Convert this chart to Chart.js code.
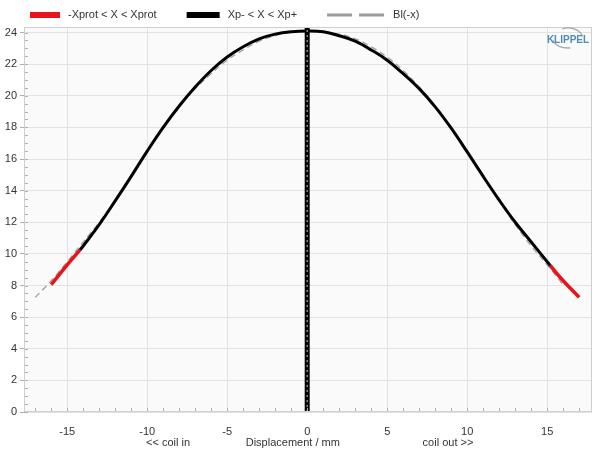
<!DOCTYPE html>
<html>
<head>
<meta charset="utf-8">
<script src="https://cdn.jsdelivr.net/npm/chart.js@4/dist/chart.umd.min.js"></script>
<style>
  html, body { margin: 0; padding: 0; background: #fff; }
  #wrap { width: 600px; height: 450px; position: relative; }
</style>
</head>
<body>
<div id="wrap"><canvas id="c"></canvas></div>
<script>
// Bl(x) curve (mm -> N/A)
const redLeftX = [-16, -15, -14.2];
const redLeftY = [8.05, 9.3, 10.25];
const blackX = [-14.2, -14, -13, -12, -11, -10, -9, -8, -7, -6, -5, -4, -3, -2, -1, 0, 1, 2, 3, 4, 5, 6, 7, 8, 9, 10, 11, 12, 13, 14, 15, 15.2];
const blackY = [10.25, 10.5, 11.85, 13.35, 14.9, 16.5, 18.0, 19.35, 20.55, 21.6, 22.45, 23.1, 23.6, 23.9, 24.05, 24.1, 24.05, 23.8, 23.45, 22.9, 22.25, 21.4, 20.45, 19.3, 17.95, 16.45, 14.9, 13.4, 12.0, 10.75, 9.5, 9.25];
const redRightX = [15.2, 16, 17];
const redRightY = [9.25, 8.3, 7.25];
// Bl(-x), dashed grey
const mirrorX = [-17, -16, -15, -14, -13, -12, -11, -10, -9, -8, -7, -6, -5, -4, -3, -2, -1, 0, 1, 2, 3, 4, 5, 6, 7, 8, 9, 10, 11, 12, 13, 14, 15, 16];
const mirrorY = [7.25, 8.3, 9.5, 10.75, 12.0, 13.4, 14.9, 16.45, 17.95, 19.3, 20.45, 21.4, 22.25, 22.9, 23.45, 23.8, 24.05, 24.1, 24.05, 23.9, 23.6, 23.1, 22.45, 21.6, 20.55, 19.35, 18.0, 16.5, 14.9, 13.35, 11.85, 10.5, 9.3, 8.05];
// rest position marker
const restX = [0, 0];
const restY = [0, 24.35];

const legendNames = ["-Xprot < X < Xprot", "Xp- < X < Xp+", "Bl(-x)"];
const sideLabels = ["<< coil in", "Displacement / mm", "coil out >>"];
const sideLabelPos = [-8.7, -0.9, 8.8];

const FONT = "'Liberation Sans', Arial, sans-serif";

function pts(xs, ys) {
  return xs.map((x, i) => ({ x: x, y: ys[i] }));
}

const redData = pts(redLeftX, redLeftY).concat([{ x: 0, y: null }], pts(redRightX, redRightY));

const bgPlugin = {
  id: "bg",
  beforeDraw(chart) {
    const a = chart.chartArea, ctx = chart.ctx;
    ctx.save();
    ctx.fillStyle = "#fafafa";
    ctx.fillRect(a.left, a.top, a.right - a.left, a.bottom - a.top);
    ctx.restore();
  }
};

const extrasPlugin = {
  id: "extras",
  afterDatasetsDraw(chart) {
    const a = chart.chartArea, ctx = chart.ctx;
    const xs = chart.scales.x, ys = chart.scales.y;
    ctx.save();
    // minor ticks inside plot
    ctx.strokeStyle = "#b0b0b0";
    ctx.lineWidth = 1;
    ctx.beginPath();
    for (let v = -17; v <= 17; v++) {
      const px = Math.round(xs.getPixelForValue(v)) + 0.5;
      ctx.moveTo(px, a.bottom);
      ctx.lineTo(px, a.bottom - 4);
    }
    for (let v = 0; v <= 24; v += 0.5) {
      const py = Math.round(ys.getPixelForValue(v)) + 0.5;
      ctx.moveTo(a.left, py);
      ctx.lineTo(a.left + 4, py);
    }
    ctx.stroke();
    // plot border
    ctx.strokeStyle = "#cfcfcf";
    ctx.strokeRect(a.left + 0.5, a.top + 0.5, a.right - a.left - 1, a.bottom - a.top - 1);
    ctx.restore();
  },
  afterDraw(chart) {
    const ctx = chart.ctx;
    const xs = chart.scales.x;
    ctx.save();
    // axis captions under the tick labels
    ctx.font = "11px " + FONT;
    ctx.fillStyle = "#333";
    ctx.textAlign = "center";
    ctx.textBaseline = "middle";
    sideLabels.forEach((t, i) => {
      ctx.fillText(t, xs.getPixelForValue(sideLabelPos[i]), 443);
    });
    // legend
    const ds = chart.data.datasets;
    const items = [
      { name: legendNames[0], color: ds[2].borderColor, w: 30, dash: [] },
      { name: legendNames[1], color: ds[3].borderColor, w: 33, dash: [] },
      { name: legendNames[2], color: "#9a9a9a", w: 58, dash: [25, 7], lw: 3 }
    ];
    let x = 30;
    const y = 15;
    items.forEach((it) => {
      ctx.beginPath();
      ctx.strokeStyle = it.color;
      ctx.lineWidth = it.lw || 6;
      ctx.setLineDash(it.dash);
      ctx.moveTo(x, y);
      ctx.lineTo(x + it.w, y);
      ctx.stroke();
      ctx.setLineDash([]);
      x += it.w + 8;
      ctx.textAlign = "left";
      ctx.fillStyle = "#333";
      ctx.fillText(it.name, x, y);
      x += ctx.measureText(it.name).width + 30;
    });
    // KLIPPEL logo
    const lx = 568, ly = 40;
    ctx.strokeStyle = "#a8a8a8";
    ctx.lineWidth = 1.3;
    ctx.beginPath();
    ctx.ellipse(lx, ly - 1, 15, 11, 0, -Math.PI * 0.62, -Math.PI * 0.08);
    ctx.stroke();
    ctx.beginPath();
    ctx.ellipse(lx, ly - 1, 15, 9, 0, Math.PI * 0.45, Math.PI * 0.95);
    ctx.stroke();
    ctx.font = "bold 10px " + FONT;
    ctx.fillStyle = "#4f8db3";
    ctx.textAlign = "center";
    ctx.fillText("KLIPPEL", lx, ly);
    ctx.restore();
  }
};

new Chart(document.getElementById("c"), {
  type: "line",
  data: {
    datasets: [
      { label: "rest", data: pts(restX, restY), borderColor: "#8a8a8a", borderWidth: 1.5, borderDash: [2, 3], pointRadius: 0, order: 0 },
      { label: "restBg", data: pts(restX, restY), borderColor: "#000000", borderWidth: 5, pointRadius: 0, order: 1 },
      { label: legendNames[0], data: redData, borderColor: "#e8141a", borderWidth: 3.5, pointRadius: 0, tension: 0.4, spanGaps: false, order: 3 },
      { label: legendNames[1], data: pts(blackX, blackY), borderColor: "#000000", borderWidth: 3, pointRadius: 0, tension: 0.4, order: 2 },
      { label: legendNames[2], data: pts(mirrorX, mirrorY), borderColor: "#9a9a9a", borderWidth: 1.2, borderDash: [6, 4], pointRadius: 0, tension: 0.4, order: 4 }
    ]
  },
  options: {
    responsive: true,
    maintainAspectRatio: false,
    animation: false,
    parsing: false,
    layout: { padding: { left: 0, right: 8, top: 27, bottom: 0 } },
    plugins: { legend: { display: false }, tooltip: { enabled: false } },
    scales: {
      x: {
        type: "linear",
        min: -17.7,
        max: 17.8,
        afterFit(s) { s.height = 38; },
        border: { display: false },
        grid: { color: "#e2e2e2", drawTicks: false },
        ticks: { stepSize: 5, includeBounds: false, padding: 13, color: "#333", font: { size: 11, family: FONT }, maxRotation: 0 }
      },
      y: {
        type: "linear",
        min: 0,
        max: 24.35,
        afterFit(s) { s.width = 24; },
        border: { display: false },
        grid: { color: "#e2e2e2", tickLength: 4, tickColor: "#b0b0b0" },
        ticks: { stepSize: 2, includeBounds: false, padding: 3, color: "#333", font: { size: 11, family: FONT } }
      }
    }
  },
  plugins: [bgPlugin, extrasPlugin]
});
</script>
</body>
</html>
